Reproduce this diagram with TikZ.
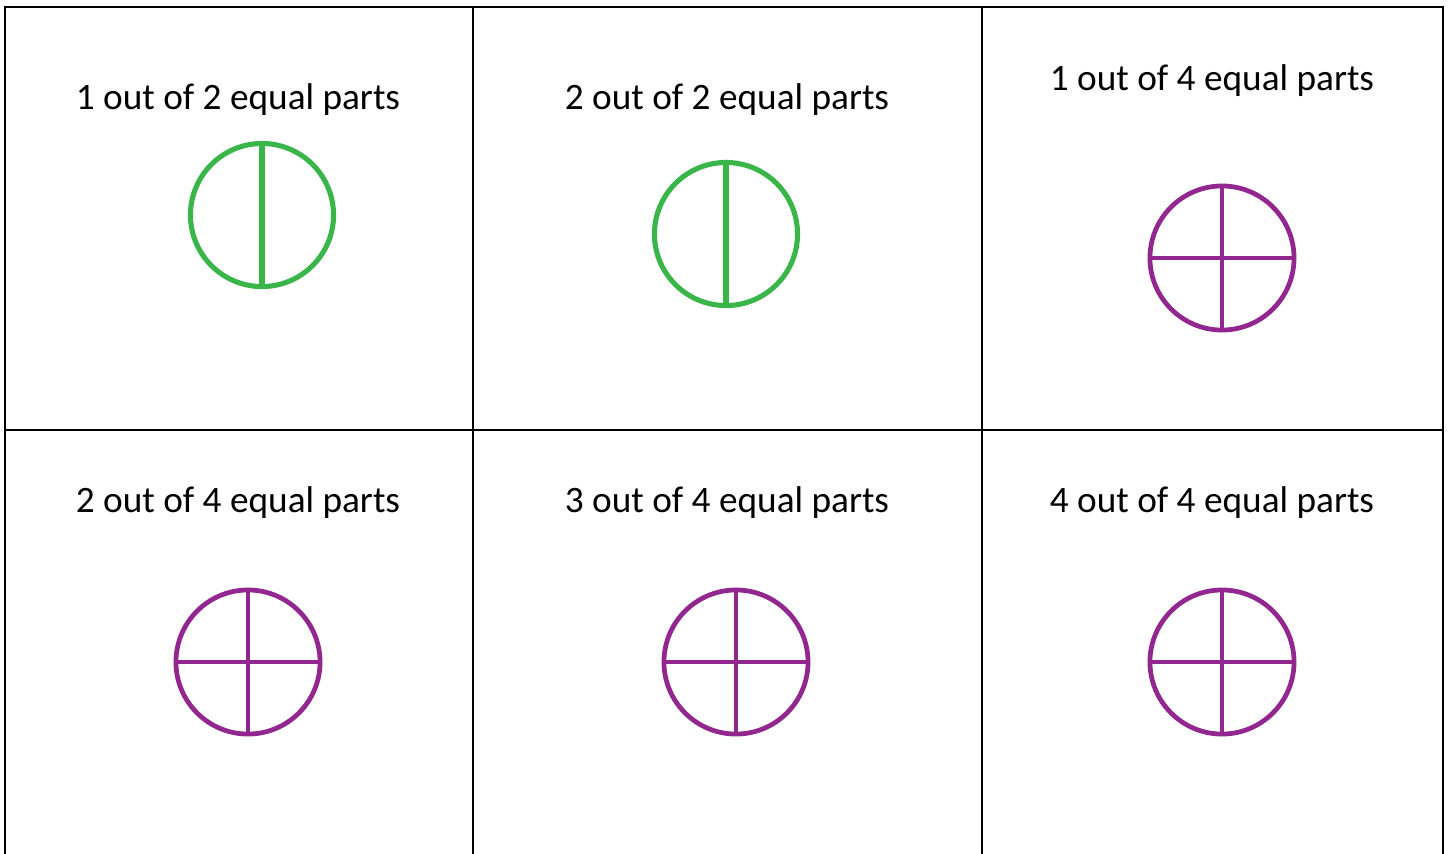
\documentclass[tikz,border=0pt]{standalone}
\usepackage{fontspec}
\setmainfont{Carlito}
\definecolor{halfgreen}{RGB}{57,181,74}
\definecolor{quarterpurple}{RGB}{146,39,143}
\tikzset{
  cellrule/.style={line width=0.65pt},
  caption/.style={anchor=base,inner sep=0pt,font=\fontsize{10.6}{12}\selectfont},
  halves/.style={draw=halfgreen,line width=1.45pt},
  quarters/.style={draw=quarterpurple,line width=1.35pt},
}
\begin{document}
\begin{tikzpicture}[x=0.01cm,y=-0.01cm]
  \useasboundingbox (0,0) rectangle (1450,853);
  % table
  \draw[cellrule] (5,870) -- (5,7) -- (1443,7) -- (1443,870);
  \draw[cellrule] (473,7) -- (473,870);
  \draw[cellrule] (982,7) -- (982,870);
  \draw[cellrule] (5,430) -- (1443,430);
  % captions
  \node[caption] (capA) at (238,109) {1 out of 2 equal parts};
  \node[caption] (capB) at (727,109) {2 out of 2 equal parts};
  \node[caption] (capC) at (1212,90) {1 out of 4 equal parts};
  \node[caption] (capD) at (238,512) {2 out of 4 equal parts};
  \node[caption] (capE) at (727,512) {3 out of 4 equal parts};
  \node[caption] (capF) at (1212,512) {4 out of 4 equal parts};
  % halves
  \coordinate (cA) at (262,215);
  \coordinate (cB) at (726,234);
  \draw[halves] (cA) circle[radius=0.715cm];
  \draw[halves] ([yshift=0.715cm]cA) -- ([yshift=-0.715cm]cA);
  \draw[halves] (cB) circle[radius=0.715cm];
  \draw[halves] ([yshift=0.715cm]cB) -- ([yshift=-0.715cm]cB);
  % quarters
  \coordinate (cC) at (1222,258);
  \coordinate (cD) at (248,662);
  \coordinate (cE) at (736,662);
  \coordinate (cF) at (1222,662);
  \foreach \c in {cC,cD,cE,cF}{
    \draw[quarters] (\c) circle[radius=0.72cm];
    \draw[quarters] ([yshift=0.72cm]\c) -- ([yshift=-0.72cm]\c);
    \draw[quarters] ([xshift=-0.72cm]\c) -- ([xshift=0.72cm]\c);
  }
\end{tikzpicture}
\end{document}
